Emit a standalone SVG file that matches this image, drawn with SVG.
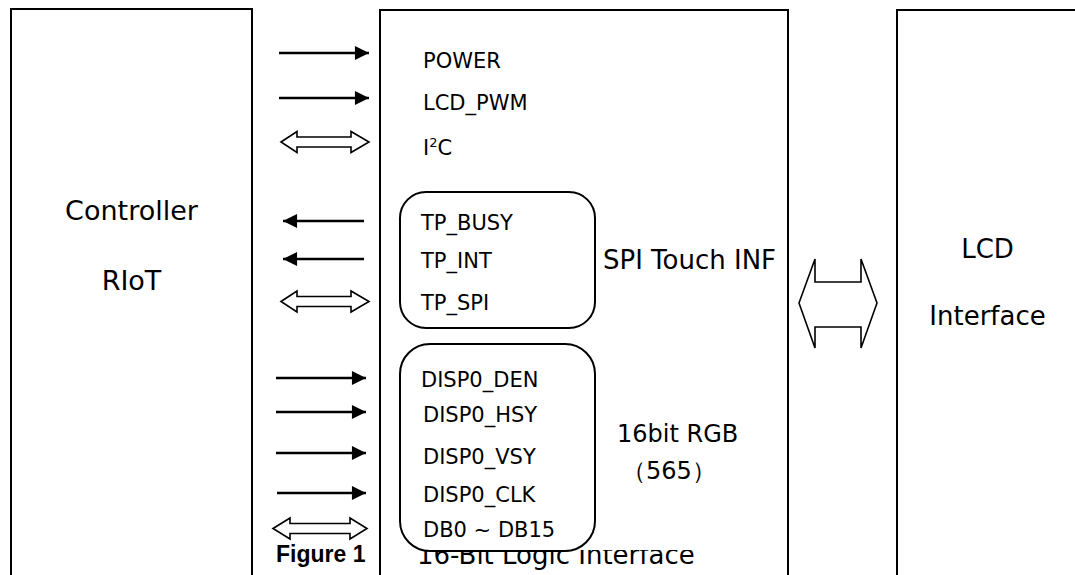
<svg xmlns="http://www.w3.org/2000/svg" width="1075" height="575" viewBox="0 0 1075 575">
<style>
.box{fill:#fff;stroke:#000;stroke-width:2}
.rbox{fill:#fff;stroke:#000;stroke-width:2}
.t{font-family:"DejaVu Sans",Verdana,sans-serif;fill:#000}
.sig{font-size:21px}
.big{font-size:26px}
.mid{font-size:24px}
.ln{stroke:#000;stroke-width:2.6;fill:none}
.dbl{fill:#fff;stroke:#000;stroke-width:1.6;stroke-linejoin:miter}
.cap{font-family:"Liberation Sans",Arial,sans-serif;font-weight:bold;font-size:23px;fill:#000}
</style>
<defs>
<marker id="ah" viewBox="0 0 10 10" refX="10" refY="5" markerWidth="6" markerHeight="5.4" markerUnits="strokeWidth" orient="auto">
<path d="M0,0 L10,5 L0,10 z" fill="#000"/>
</marker>
<clipPath id="capclip"><rect x="0" y="550" width="1075" height="30"/></clipPath>
</defs>
<rect width="1075" height="575" fill="#fff"/>

<g id="controller">
<rect class="box" x="11" y="9" width="241" height="580"/>
<text class="t" x="131.5" y="220" font-size="27" text-anchor="middle">Controller</text>
<text class="t" x="131.5" y="290" font-size="27" text-anchor="middle">RIoT</text>
</g>

<g id="lcd-interface">
<rect class="box" x="897" y="10" width="200" height="580"/>
<text class="t big" x="987.5" y="258" text-anchor="middle">LCD</text>
<text class="t big" x="987.5" y="325" text-anchor="middle">Interface</text>
</g>

<g id="interface-block">
<rect class="box" x="380" y="10" width="408" height="580"/>
<text class="t sig" x="423" y="68">POWER</text>
<text class="t sig" x="423" y="110">LCD_PWM</text>
<text class="t sig" x="423" y="155">I<tspan font-size="13" dy="-8">2</tspan><tspan dy="8">C</tspan></text>
<text class="t" x="603" y="269" font-size="26">SPI Touch INF</text>
<text class="t mid" x="617" y="442">16bit RGB</text>
<text class="t mid" x="622" y="479" font-family="'DejaVu Sans','Noto Sans CJK SC',sans-serif">（565）</text>
</g>

<g id="caption">
<text class="t" x="417" y="564" font-size="26" clip-path="url(#capclip)">16-Bit Logic Interface</text>
<text class="cap" x="276" y="562">Figure 1</text>
</g>

<g id="spi-touch">
<rect class="rbox" x="400" y="192" width="195" height="136" rx="26" ry="26"/>
<text class="t sig" x="421" y="230">TP_BUSY</text>
<text class="t sig" x="421" y="268">TP_INT</text>
<text class="t sig" x="421" y="310">TP_SPI</text>
</g>

<g id="rgb-group">
<rect class="rbox" x="400" y="344" width="195" height="207" rx="30" ry="30"/>
<text class="t sig" x="421" y="387">DISP0_DEN</text>
<text class="t sig" x="423" y="422">DISP0_HSY</text>
<text class="t sig" x="423" y="464">DISP0_VSY</text>
<text class="t sig" x="423" y="502">DISP0_CLK</text>
<text class="t sig" x="423" y="537">DB0 ~ DB15</text>
</g>

<g id="connectors">
<line class="ln" x1="279" y1="53" x2="369" y2="53" marker-end="url(#ah)"/>
<line class="ln" x1="279" y1="98" x2="369" y2="98" marker-end="url(#ah)"/>
<polygon class="dbl" points="281,142 297,131.5 297,137 351,137 351,131.5 369,142 351,152.5 351,147 297,147 297,152.5"/>
<line class="ln" x1="364" y1="221" x2="283" y2="221" marker-end="url(#ah)"/>
<line class="ln" x1="364" y1="259" x2="283" y2="259" marker-end="url(#ah)"/>
<polygon class="dbl" points="281,301.5 297,291 297,296.5 351,296.5 351,291 369,301.5 351,312 351,306.5 297,306.5 297,312"/>
<line class="ln" x1="276" y1="378" x2="366" y2="378" marker-end="url(#ah)"/>
<line class="ln" x1="276" y1="412" x2="366" y2="412" marker-end="url(#ah)"/>
<line class="ln" x1="276" y1="453" x2="366" y2="453" marker-end="url(#ah)"/>
<line class="ln" x1="277" y1="493" x2="366" y2="493" marker-end="url(#ah)"/>
<polygon class="dbl" points="273,528.5 290,518 290,523.5 350,523.5 350,518 367,528.5 350,539 350,533.5 290,533.5 290,539"/>
<polygon class="dbl" points="799,303 815,259 815,282 861,282 861,259 877,303 861,348 861,327 815,327 815,348"/>
</g>
</svg>
